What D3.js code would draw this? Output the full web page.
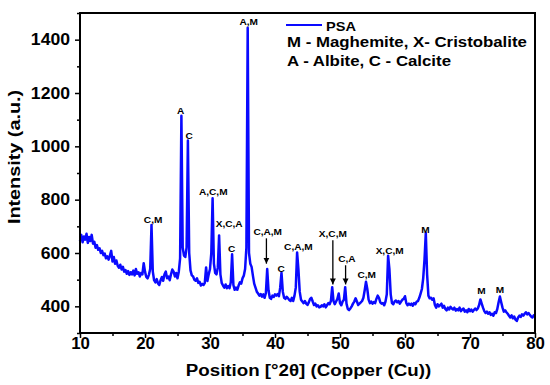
<!DOCTYPE html>
<html>
<head>
<meta charset="utf-8">
<script src="https://cdn.jsdelivr.net/npm/d3@7"></script>
<style>
  body { margin: 0; background: #fff; }
  svg { font-family: Arial, "Liberation Sans", sans-serif; font-weight: bold; }
</style>
</head>
<body>
<div id="chart"></div>
<script>
// PSA scan (0.2 deg steps)
var twoTheta = [
  10.0, 10.2, 10.4, 10.6, 10.8, 11.0, 11.2, 11.4, 11.6, 11.8,
  12.0, 12.2, 12.4, 12.6, 12.8, 13.0, 13.2, 13.4, 13.6, 13.8,
  14.0, 14.2, 14.4, 14.6, 14.8, 15.0, 15.2, 15.4, 15.6, 15.8,
  16.0, 16.2, 16.4, 16.6, 16.8, 17.0, 17.2, 17.4, 17.6, 17.8,
  18.0, 18.2, 18.4, 18.6, 18.8, 19.0, 19.2, 19.4, 19.6, 19.8,
  20.0, 20.2, 20.4, 20.6, 20.8, 21.0, 21.2, 21.4, 21.6, 21.8,
  22.0, 22.2, 22.4, 22.6, 22.8, 23.0, 23.2, 23.4, 23.6, 23.8,
  24.0, 24.2, 24.4, 24.6, 24.8, 25.0, 25.2, 25.4, 25.6, 25.8,
  26.0, 26.2, 26.4, 26.6, 26.8, 27.0, 27.2, 27.4, 27.6, 27.8,
  28.0, 28.2, 28.4, 28.6, 28.8, 29.0, 29.2, 29.4, 29.6, 29.8,
  30.0, 30.2, 30.4, 30.6, 30.8, 31.0, 31.2, 31.4, 31.6, 31.8,
  32.0, 32.2, 32.4, 32.6, 32.8, 33.0, 33.2, 33.4, 33.6, 33.8,
  34.0, 34.2, 34.4, 34.6, 34.8, 35.0, 35.2, 35.4, 35.6, 35.8,
  36.0, 36.2, 36.4, 36.6, 36.8, 37.0, 37.2, 37.4, 37.6, 37.8,
  38.0, 38.2, 38.4, 38.6, 38.8, 39.0, 39.2, 39.4, 39.6, 39.8,
  40.0, 40.2, 40.4, 40.6, 40.8, 41.0, 41.2, 41.4, 41.6, 41.8,
  42.0, 42.2, 42.4, 42.6, 42.8, 43.0, 43.2, 43.4, 43.6, 43.8,
  44.0, 44.2, 44.4, 44.6, 44.8, 45.0, 45.2, 45.4, 45.6, 45.8,
  46.0, 46.2, 46.4, 46.6, 46.8, 47.0, 47.2, 47.4, 47.6, 47.8,
  48.0, 48.2, 48.4, 48.6, 48.8, 49.0, 49.2, 49.4, 49.6, 49.8,
  50.0, 50.2, 50.4, 50.6, 50.8, 51.0, 51.2, 51.4, 51.6, 51.8,
  52.0, 52.2, 52.4, 52.6, 52.8, 53.0, 53.2, 53.4, 53.6, 53.8,
  54.0, 54.2, 54.4, 54.6, 54.8, 55.0, 55.2, 55.4, 55.6, 55.8,
  56.0, 56.2, 56.4, 56.6, 56.8, 57.0, 57.2, 57.4, 57.6, 57.8,
  58.0, 58.2, 58.4, 58.6, 58.8, 59.0, 59.2, 59.4, 59.6, 59.8,
  60.0, 60.2, 60.4, 60.6, 60.8, 61.0, 61.2, 61.4, 61.6, 61.8,
  62.0, 62.2, 62.4, 62.6, 62.8, 63.0, 63.2, 63.4, 63.6, 63.8,
  64.0, 64.2, 64.4, 64.6, 64.8, 65.0, 65.2, 65.4, 65.6, 65.8,
  66.0, 66.2, 66.4, 66.6, 66.8, 67.0, 67.2, 67.4, 67.6, 67.8,
  68.0, 68.2, 68.4, 68.6, 68.8, 69.0, 69.2, 69.4, 69.6, 69.8,
  70.0, 70.2, 70.4, 70.6, 70.8, 71.0, 71.2, 71.4, 71.6, 71.8,
  72.0, 72.2, 72.4, 72.6, 72.8, 73.0, 73.2, 73.4, 73.6, 73.8,
  74.0, 74.2, 74.4, 74.6, 74.8, 75.0, 75.2, 75.4, 75.6, 75.8,
  76.0, 76.2, 76.4, 76.6, 76.8, 77.0, 77.2, 77.4, 77.6, 77.8,
  78.0, 78.2, 78.4, 78.6, 78.8, 79.0, 79.2, 79.4, 79.6, 79.8,
  80.0
]
var counts = [
  645, 668, 640, 662, 650, 672, 638, 660, 645, 668,
  635, 642, 620, 630, 612, 618, 600, 608, 592, 598,
  580, 588, 575, 590, 608, 568, 585, 560, 572, 552,
  545, 556, 538, 548, 530, 536, 522, 532, 518, 528,
  520, 534, 516, 540, 522, 528, 512, 525, 520, 562,
  530, 510, 505, 518, 540, 705, 530, 498, 490, 502,
  486, 480, 498, 510, 496, 520, 530, 505, 512, 498,
  520, 538, 530, 512, 525, 505, 530, 580, 1115, 620,
  590, 585, 620, 1022, 600, 535, 516, 512, 500, 496,
  505, 488, 492, 478, 484, 480, 488, 546, 495, 520,
  540, 600, 805, 560, 525, 520, 545, 666, 520, 488,
  478, 470, 482, 468, 476, 468, 490, 595, 480, 462,
  470, 462, 478, 490, 485, 505, 515, 540, 620, 1445,
  600, 560, 548, 515, 485, 470, 455, 448, 440, 446,
  436, 445, 432, 450, 540, 460, 432, 428, 440, 435,
  445, 440, 446, 438, 470, 526, 455, 432, 428, 436,
  430, 424, 420, 432, 420, 440, 470, 602, 540, 455,
  425, 418, 412, 420, 410, 405, 415, 428, 432, 418,
  405, 410, 400, 404, 396, 398, 404, 400, 408, 396,
  404, 412, 408, 420, 472, 420, 408, 418, 428, 448,
  412, 404, 418, 425, 472, 410, 390, 386, 392, 400,
  410, 418, 430, 418, 405, 410, 415, 420, 432, 460,
  492, 465, 425, 412, 418, 410, 416, 412, 428, 440,
  432, 415, 410, 412, 404, 418, 445, 590, 540, 445,
  412, 408, 418, 422, 415, 420, 410, 418, 425, 428,
  438, 412, 404, 410, 405, 410, 402, 412, 408, 418,
  420, 432, 448, 465, 505, 575, 675, 520, 440, 430,
  432, 425, 430, 405, 395, 408, 400, 404, 410, 395,
  402, 390, 385, 395, 388, 398, 392, 388, 395, 384,
  390, 385, 395, 382, 388, 392, 380, 385, 378, 390,
  382, 388, 380, 386, 392, 386, 392, 405, 426, 410,
  395, 382, 375, 380, 372, 378, 368, 372, 365, 378,
  375, 390, 415, 437, 415, 395, 380, 385, 378, 372,
  365, 358, 366, 355, 362, 350, 345, 358, 365, 360,
  370, 365, 372, 378, 370, 375, 368, 362, 358, 366,
  362
]

// phase labels over the peaks
var peakNames = ['C,M', 'A', 'C', 'A,C,M', 'X,C,A', 'C', 'A,M', 'C,A,M', 'C', 'C,A,M', 'X,C,M', 'C,A', 'C,M', 'X,C,M', 'M', 'M', 'M']
var peakPos = [21.25, 25.5, 26.8, 30.5, 32.95, 33.33, 35.95, 38.88, 40.94, 43.6, 48.9, 51.06, 54.1, 57.64, 63.13, 71.78, 74.6]
var peakTop = [711, 1123, 1028, 816, 696, 603, 1456, 666, 528, 612, 660, 566, 507, 597, 676, 445, 450]

// arrows for the small peaks
var arrowPos = [38.68, 48.9, 50.86]
var arrowFrom = [655, 648, 554]
var arrowTo = [560, 482, 482]

var legendLines = ['M - Maghemite, X- Cristobalite', 'A - Albite, C - Calcite']

var yTicks = [400, 600, 800, 1000, 1200, 1400]
var yMinor = [300, 500, 700, 900, 1100, 1300, 1500]
var xTicks = [10, 20, 30, 40, 50, 60, 70, 80]
var xMinor = [15, 25, 35, 45, 55, 65, 75]

var width = 550
var height = 385
var margin = { top: 13, right: 15, bottom: 52, left: 80 }

var svg = d3.select('#chart')
  .append('svg')
  .attr('width', width)
  .attr('height', height)

var xScale = d3.scaleLinear()
  .domain([10, 80])
  .range([margin.left, width - margin.right])

var yScale = d3.scaleLinear()
  .domain([300, 1500])
  .range([height - margin.bottom, margin.top])

// stretch text a bit wider, the original font runs wide
function widen(sel, k) {
  sel.each(function() {
    var w = this.getComputedTextLength()
    d3.select(this)
      .attr('textLength', w * k)
      .attr('lengthAdjust', 'spacingAndGlyphs')
  })
}

svg.append('defs')
  .append('marker')
  .attr('id', 'head')
  .attr('viewBox', '0 0 10 10')
  .attr('refX', 10)
  .attr('refY', 5)
  .attr('markerUnits', 'userSpaceOnUse')
  .attr('markerWidth', 6)
  .attr('markerHeight', 8)
  .attr('orient', 'auto')
  .append('path')
  .attr('d', 'M0,0L10,5L0,10Z')
  .attr('fill', 'black')

// X axis
var xAxis = d3.axisBottom(xScale)
  .tickValues(xTicks)
  .tickSize(5)
  .tickSizeOuter(0)
  .tickPadding(0)
  .tickFormat(d3.format('d'))

svg.append('g')
  .attr('class', 'x-axis')
  .attr('transform', `translate(0,${height - margin.bottom})`)
  .call(xAxis)
  .call(g => g.select('.domain').remove())
  .call(g => g.selectAll('line').attr('stroke-width', 1.5))
  .selectAll('text')
  .style('font-size', '16px')
  .attr('fill', 'black')
  .call(widen, 1.05)

svg.append('g')
  .attr('transform', `translate(0,${height - margin.bottom})`)
  .call(d3.axisBottom(xScale).tickValues(xMinor).tickSize(3).tickSizeOuter(0).tickFormat(''))
  .call(g => g.select('.domain').remove())
  .call(g => g.selectAll('line').attr('stroke-width', 1.5))

// Y axis
var yAxis = d3.axisLeft(yScale)
  .tickValues(yTicks)
  .tickSize(5)
  .tickSizeOuter(0)
  .tickPadding(5)
  .tickFormat(d3.format('d'))

svg.append('g')
  .attr('class', 'y-axis')
  .attr('transform', `translate(${margin.left},0)`)
  .call(yAxis)
  .call(g => g.select('.domain').remove())
  .call(g => g.selectAll('line').attr('stroke-width', 1.5))
  .selectAll('text')
  .style('font-size', '16px')
  .attr('fill', 'black')
  .call(widen, 1.1)

svg.append('g')
  .attr('transform', `translate(${margin.left},0)`)
  .call(d3.axisLeft(yScale).tickValues(yMinor).tickSize(3).tickSizeOuter(0).tickFormat(''))
  .call(g => g.select('.domain').remove())
  .call(g => g.selectAll('line').attr('stroke-width', 1.5))

// the scan
var scan = twoTheta.map((t, i) => ({ t: t, c: counts[i] }))

var line = d3.line()
  .x(d => xScale(d.t))
  .y(d => yScale(d.c))

svg.append('path')
  .datum(scan)
  .attr('d', line)
  .attr('fill', 'none')
  .attr('stroke', '#0a0aff')
  .attr('stroke-width', 2.5)
  .attr('stroke-linejoin', 'round')

// frame
svg.append('rect')
  .attr('x', margin.left)
  .attr('y', margin.top)
  .attr('width', width - margin.left - margin.right)
  .attr('height', height - margin.top - margin.bottom)
  .attr('fill', 'none')
  .attr('stroke', 'black')
  .attr('stroke-width', 2)

// peak labels
svg.selectAll('.peak-label')
  .data(peakNames)
  .enter()
  .append('text')
  .attr('class', 'peak-label')
  .attr('x', (d, i) => xScale(peakPos[i]))
  .attr('y', (d, i) => yScale(peakTop[i]))
  .attr('text-anchor', 'middle')
  .style('font-size', '9px')
  .text(d => d)
  .call(widen, 1.12)

svg.selectAll('.arrow')
  .data(arrowPos)
  .enter()
  .append('line')
  .attr('class', 'arrow')
  .attr('x1', d => xScale(d))
  .attr('x2', d => xScale(d))
  .attr('y1', (d, i) => yScale(arrowFrom[i]))
  .attr('y2', (d, i) => yScale(arrowTo[i]))
  .attr('stroke', 'black')
  .attr('stroke-width', 1.3)
  .attr('marker-end', 'url(#head)')

// legend
var legend = svg.append('g')
  .attr('class', 'legend')

legend.append('line')
  .attr('x1', 286)
  .attr('x2', 322)
  .attr('y1', 25)
  .attr('y2', 25)
  .attr('stroke', '#0a0aff')
  .attr('stroke-width', 2)

legend.append('text')
  .attr('x', 326)
  .attr('y', 30.5)
  .style('font-size', '13px')
  .text('PSA')
  .call(widen, 1.12)

legend.selectAll('.note')
  .data(legendLines)
  .enter()
  .append('text')
  .attr('class', 'note')
  .attr('x', 287)
  .attr('y', (d, i) => 47 + i * 19)
  .style('font-size', '14px')
  .text(d => d)
  .call(widen, 1.2)

// axis titles
svg.append('text')
  .attr('x', (margin.left + width - margin.right) / 2 + 1)
  .attr('y', 376)
  .attr('text-anchor', 'middle')
  .style('font-size', '16px')
  .text('Position [°2θ] (Copper (Cu))')
  .call(widen, 1.17)

svg.append('text')
  .attr('transform', 'translate(20,157) rotate(-90)')
  .attr('text-anchor', 'middle')
  .style('font-size', '16.5px')
  .text('Intensity (a.u.)')
  .call(widen, 1.2)
</script>
</body>
</html>
